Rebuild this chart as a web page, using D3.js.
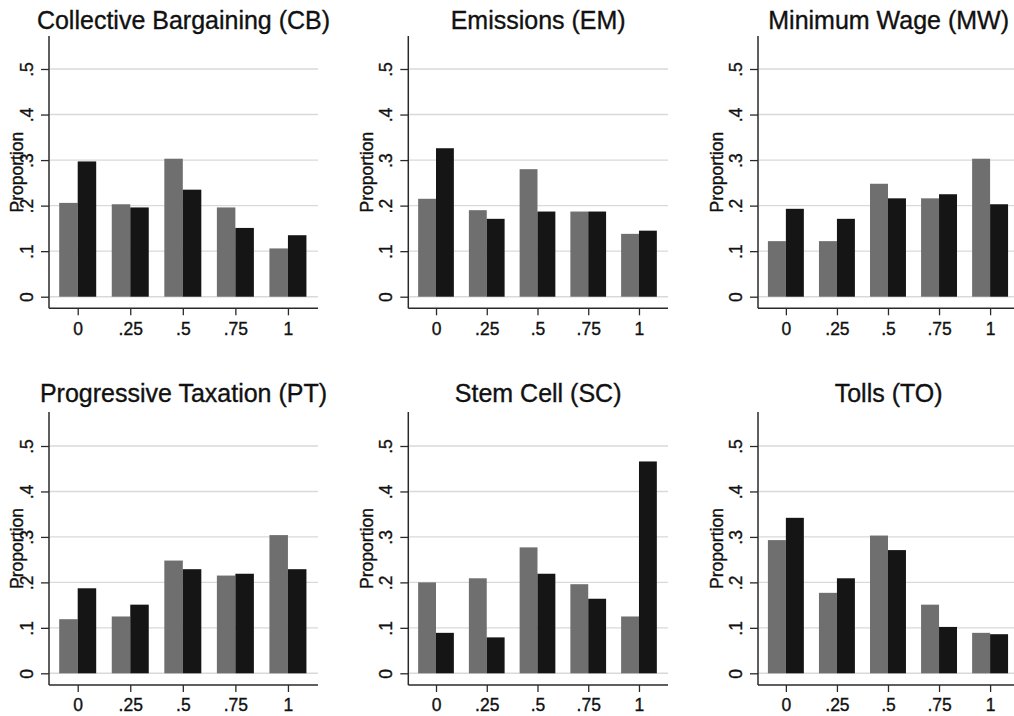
<!DOCTYPE html>
<html>
<head>
<meta charset="utf-8">
<script src="https://cdn.jsdelivr.net/npm/d3@7"></script>
<style>
  html, body { margin: 0; padding: 0; background: #fff; }
  svg { display: block; }
  text { font-family: "Liberation Sans", Arial, Helvetica, sans-serif; fill: #111; stroke: #111; stroke-width: 0.35px; }
</style>
</head>
<body>
<svg id="chart" width="1014" height="716"></svg>
<script>
// ---- data ----
const categories = [0, 0.25, 0.5, 0.75, 1];
const xTickLabels = ["0", ".25", ".5", ".75", "1"];
const yTicks = [0, 0.1, 0.2, 0.3, 0.4, 0.5];
const yTickLabels = ["0", ".1", ".2", ".3", ".4", ".5"];
const titles = ["Collective Bargaining (CB)", "Emissions (EM)", "Minimum Wage (MW)",
                "Progressive Taxation (PT)", "Stem Cell (SC)", "Tolls (TO)"];
const yLabel = "Proportion";

const cbGray  = [0.206, 0.203, 0.303, 0.196, 0.106];
const cbBlack = [0.297, 0.196, 0.235, 0.151, 0.135];
const emGray  = [0.215, 0.190, 0.280, 0.187, 0.138];
const emBlack = [0.326, 0.171, 0.187, 0.187, 0.145];
const mwGray  = [0.122, 0.122, 0.248, 0.216, 0.303];
const mwBlack = [0.193, 0.171, 0.216, 0.225, 0.203];
const ptGray  = [0.119, 0.125, 0.248, 0.215, 0.304];
const ptBlack = [0.187, 0.151, 0.229, 0.219, 0.229];
const scGray  = [0.200, 0.209, 0.277, 0.196, 0.125];
const scBlack = [0.089, 0.079, 0.219, 0.164, 0.466];
const toGray  = [0.293, 0.177, 0.303, 0.151, 0.089];
const toBlack = [0.342, 0.209, 0.271, 0.102, 0.086];

const graySeries  = [cbGray, emGray, mwGray, ptGray, scGray, toGray];
const blackSeries = [cbBlack, emBlack, mwBlack, ptBlack, scBlack, toBlack];

// ---- layout ----
const cols = [
  { x0: 49,    x1: 318,    ylabX: 17 },
  { x0: 408.3, x1: 668,    ylabX: 366.7 },
  { x0: 758,   x1: 1019.3, ylabX: 717 }
];
const rows = [
  { zero: 296.7, half: 69,  top: 36,  bottom: 308.3, titleY: 29,  xlabY: 335 },
  { zero: 673.3, half: 446, top: 412, bottom: 685,   titleY: 402, xlabY: 711 }
];
const xDomain = [-0.1365, 1.143];
const barW = 0.088;
const grayColor = "#6f6f6f";
const blackColor = "#151515";
const gridColor = "#d9d9d9";
const axisColor = "#2a2a2a";
const tickFont = 17.5;

const svg = d3.select("#chart");

titles.forEach((title, i) => {
  const c = cols[i % 3], r = rows[Math.floor(i / 3)];
  const x = d3.scaleLinear().domain(xDomain).range([c.x0, c.x1]);
  const y = d3.scaleLinear().domain([0, 0.5]).range([r.zero, r.half]);
  const g = svg.append("g");

  // gridlines
  g.selectAll("line.grid").data(yTicks).join("line")
    .attr("x1", c.x0 + 1).attr("x2", Math.min(c.x1, 1014))
    .attr("y1", d => y(d)).attr("y2", d => y(d))
    .attr("stroke", gridColor).attr("stroke-width", 1.4);

  // bars
  const gs = graySeries[i], bs = blackSeries[i];
  g.selectAll("rect.gray").data(categories).join("rect")
    .attr("x", (d) => x(d - barW))
    .attr("width", (d) => x(d) - x(d - barW))
    .attr("y", (d, j) => y(gs[j]))
    .attr("height", (d, j) => y(0) - y(gs[j]))
    .attr("fill", grayColor);
  g.selectAll("rect.black").data(categories).join("rect")
    .attr("x", (d) => x(d))
    .attr("width", (d) => x(d + barW) - x(d))
    .attr("y", (d, j) => y(bs[j]))
    .attr("height", (d, j) => y(0) - y(bs[j]))
    .attr("fill", blackColor);

  // y axis
  const yAxis = d3.axisLeft(y).tickValues(yTicks).tickSize(8)
    .tickFormat((d, k) => yTickLabels[k]);
  const ya = g.append("g").attr("transform", `translate(${c.x0},0)`).call(yAxis);
  ya.select(".domain").remove();
  ya.selectAll(".tick line").attr("stroke", axisColor).attr("stroke-width", 1.3);
  ya.selectAll(".tick text")
    .attr("x", null).attr("dy", null)
    .attr("text-anchor", "middle")
    .attr("transform", "translate(-22,0) rotate(-90)")
    .attr("dy", "0.35em")
    .attr("font-size", tickFont)
    .attr("font-family", "Liberation Sans, Arial, sans-serif")
    .attr("fill", "#111");
  g.append("line")
    .attr("x1", c.x0).attr("x2", c.x0)
    .attr("y1", r.top).attr("y2", r.bottom)
    .attr("stroke", axisColor).attr("stroke-width", 1.5);

  // x axis
  const xAxis = d3.axisBottom(x).tickValues(categories).tickSize(7)
    .tickFormat((d, k) => xTickLabels[k]);
  const xa = g.append("g").attr("transform", `translate(0,${r.bottom})`).call(xAxis);
  xa.select(".domain").remove();
  xa.selectAll(".tick line").attr("stroke", axisColor).attr("stroke-width", 1.3);
  xa.selectAll(".tick text")
    .attr("y", null).attr("dy", null)
    .attr("y", r.xlabY - r.bottom)
    .attr("font-size", tickFont)
    .attr("font-family", "Liberation Sans, Arial, sans-serif")
    .attr("fill", "#111");
  g.append("line")
    .attr("x1", c.x0).attr("x2", Math.min(c.x1, 1014))
    .attr("y1", r.bottom).attr("y2", r.bottom)
    .attr("stroke", axisColor).attr("stroke-width", 1.5);

  // y label
  g.append("text")
    .attr("transform", `translate(${c.ylabX},${(r.top + r.bottom) / 2}) rotate(-90)`)
    .attr("text-anchor", "middle").attr("dy", "0.35em")
    .attr("font-size", tickFont)
    .text(yLabel);

  // title
  g.append("text")
    .attr("x", (c.x0 + c.x1) / 2).attr("y", r.titleY)
    .attr("text-anchor", "middle")
    .attr("font-size", 25)
    .text(title);
});
</script>
</body>
</html>
